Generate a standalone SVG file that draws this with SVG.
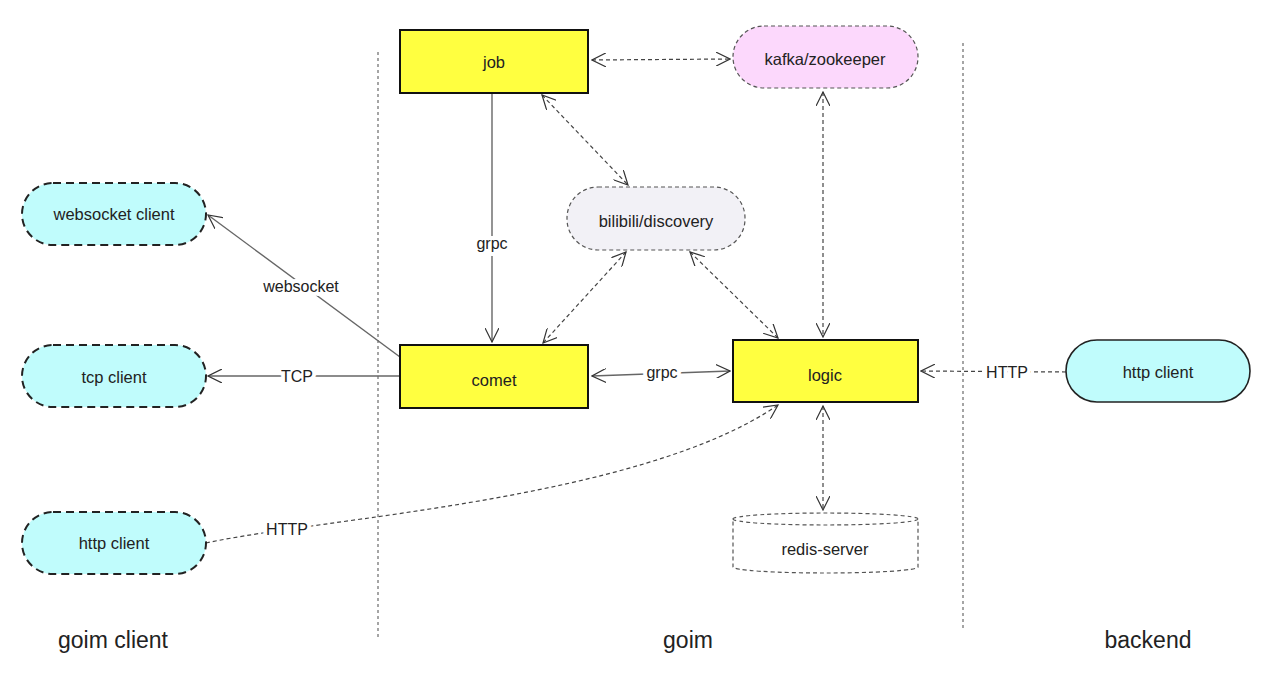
<svg xmlns="http://www.w3.org/2000/svg" width="1277" height="673" viewBox="0 0 1277 673">
<defs>
<marker id="arr" viewBox="0 0 15 14" refX="14" refY="7" markerWidth="15" markerHeight="14" markerUnits="userSpaceOnUse" orient="auto-start-reverse">
<path d="M0,0 L14,7 L0,14" fill="none" stroke="#333" stroke-width="1.2"/>
</marker>
<style>
text{font-family:"Liberation Sans","Noto Sans",Arial,sans-serif;fill:#222;text-anchor:middle;dominant-baseline:central}
.lbl{font-size:16.5px}
.edge{font-size:16px;stroke:#fff;stroke-width:8px;paint-order:stroke;stroke-linejoin:round}
.big{font-size:23px}
.box{fill:#ffff40;stroke:#111;stroke-width:2}
.client{fill:#c0fcfc;stroke:#222;stroke-width:2;stroke-dasharray:8 5}
.srv{fill:#c0fcfc;stroke:#222;stroke-width:1.6}
.soft{stroke:#555;stroke-width:1.2;stroke-dasharray:4 3}
.solid{fill:none;stroke:#666;stroke-width:1.4}
.dash{fill:none;stroke:#444;stroke-width:1.2;stroke-dasharray:4 3}
.sep{fill:none;stroke:#888;stroke-width:1.5;stroke-dasharray:3 3}
</style>
</defs>
<rect width="1277" height="673" fill="#fff"/>
<g id="separators">
<line class="sep" x1="378" y1="52" x2="378" y2="637"/>
<line class="sep" x1="963" y1="43" x2="963" y2="628"/>
</g>
<g id="connectors">
<line class="dash" x1="592" y1="60" x2="730" y2="59" marker-start="url(#arr)" marker-end="url(#arr)"/>
<line class="dash" x1="823" y1="92" x2="823" y2="337" marker-start="url(#arr)" marker-end="url(#arr)"/>
<line class="solid" x1="492" y1="93" x2="492" y2="342" marker-end="url(#arr)"/>
<line class="dash" x1="542" y1="95" x2="628" y2="185" marker-start="url(#arr)" marker-end="url(#arr)"/>
<line class="dash" x1="626" y1="252" x2="543" y2="343" marker-start="url(#arr)" marker-end="url(#arr)"/>
<line class="dash" x1="690" y1="252" x2="778" y2="338" marker-start="url(#arr)" marker-end="url(#arr)"/>
<line class="solid" x1="592" y1="376" x2="730" y2="371" marker-start="url(#arr)" marker-end="url(#arr)"/>
<line class="solid" x1="400" y1="357" x2="208" y2="215" marker-end="url(#arr)"/>
<line class="solid" x1="400" y1="376" x2="208" y2="376" marker-end="url(#arr)"/>
<line class="dash" x1="1066" y1="372" x2="921" y2="371" marker-end="url(#arr)"/>
<path class="dash" d="M206,543 C320,518 640,500 778,405" marker-end="url(#arr)"/>
<line class="dash" x1="823" y1="406" x2="823" y2="510" marker-start="url(#arr)" marker-end="url(#arr)"/>
<text class="edge" x="492" y="243">grpc</text>
<text class="edge" x="662" y="372">grpc</text>
<text class="edge" x="301" y="286">websocket</text>
<text class="edge" x="297" y="376">TCP</text>
<text class="edge" x="1007" y="372">HTTP</text>
<text class="edge" x="287" y="529">HTTP</text>
</g>
<g id="job"><rect class="box" x="400" y="30" width="188" height="63"/><text class="lbl" x="494" y="62">job</text></g>
<g id="kafka"><rect x="733" y="26" width="185" height="62" rx="31" fill="#fcd8fc" class="soft"/><text class="lbl" x="825" y="59">kafka/zookeeper</text></g>
<g id="discovery"><rect x="567" y="187" width="178" height="63" rx="31" fill="#f2f1f6" class="soft"/><text class="lbl" x="656" y="221">bilibili/discovery</text></g>
<g id="websocket-client"><rect class="client" x="22" y="183" width="184" height="62" rx="31"/><text class="lbl" x="114" y="214">websocket client</text></g>
<g id="tcp-client"><rect class="client" x="22" y="345" width="184" height="62" rx="31"/><text class="lbl" x="114" y="377">tcp client</text></g>
<g id="http-client-left"><rect class="client" x="22" y="512" width="184" height="62" rx="31"/><text class="lbl" x="114" y="543">http client</text></g>
<g id="comet"><rect class="box" x="400" y="345" width="188" height="63"/><text class="lbl" x="494" y="380">comet</text></g>
<g id="logic"><rect class="box" x="733" y="340" width="185" height="62"/><text class="lbl" x="825" y="375">logic</text></g>
<g id="http-client-right"><rect class="srv" x="1066" y="340" width="184" height="62" rx="31"/><text class="lbl" x="1158" y="372">http client</text></g>
<g id="redis">
<path d="M733,519 A92.5,6 0 0 1 918,519 V567 A92.5,6 0 0 1 733,567 Z" fill="#fff" class="soft"/>
<path d="M733,519 A92.5,6 0 0 0 918,519" fill="none" class="soft"/>
<text class="lbl" x="825" y="549">redis-server</text>
</g>
<g id="titles">
<text class="big" x="113" y="640">goim client</text>
<text class="big" x="688" y="640">goim</text>
<text class="big" x="1148" y="640">backend</text>
</g>
</svg>
